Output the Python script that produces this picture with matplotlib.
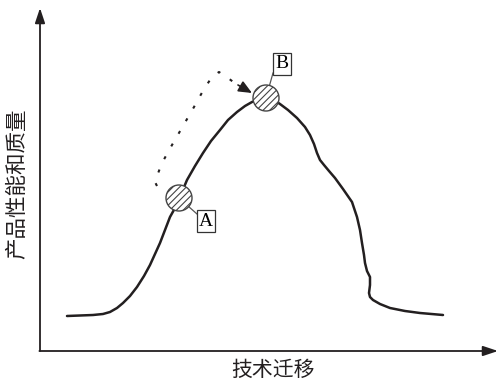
import matplotlib
matplotlib.use("Agg")
import matplotlib.pyplot as plt
from matplotlib.patches import Circle
import numpy as np

plt.rcParams['font.family'] = ['Noto Sans CJK SC', 'DejaVu Sans']
plt.rcParams['hatch.linewidth'] = 0.8

# Curve points (technology transfer x, performance y) in pixel-like drawing units
curve_x = [67, 80, 93, 103, 110, 117, 123, 130, 137, 144, 150, 155, 160, 165, 170, 175,
           179, 187, 195, 203, 211, 220, 228, 237, 245, 252, 259, 266, 273, 280, 288,
           297, 305, 310, 314, 317, 320, 324, 329, 335, 343, 352, 357, 360, 362, 364, 365,
           367, 370, 370, 369, 370, 373, 380, 390, 405, 420, 443]
curve_y = [316, 315.5, 315, 314, 312, 308, 303, 296, 287, 276, 265, 254, 243, 230, 217, 208,
           199, 180, 166, 153, 141, 130, 120, 112, 106, 102, 99.5, 98, 99.5, 104, 110,
           118, 127, 135, 144, 153, 160, 165, 171, 178, 189, 202, 217, 230, 243, 255, 263,
           271, 277, 285, 293, 297, 300, 304, 308, 311, 313, 315]

# Dotted migration path
path_x = [157, 155, 157, 162, 172, 183, 194, 204, 212, 219, 228, 236]
path_y = [186, 182, 176, 163, 145, 126, 107, 89, 77, 72, 78, 84]

# Points
points = {"A": (179, 198), "B": (266, 98)}
label_pos = {"A": (206, 221), "B": (282, 64)}
leader_end = {"A": (197, 214), "B": (273, 73)}

xlabel = "技术迁移"
ylabel = "产品性能和质量"

fig = plt.figure(figsize=(4.98, 3.83), dpi=100)
ax = fig.add_axes([0, 0, 1, 1])
ax.set_xlim(0, 498)
ax.set_ylim(383, 0)
ax.axis('off')

ink = '#231f20'

# Axes arrows
ax.annotate('', xy=(40, 8), xytext=(40, 351),
            arrowprops=dict(arrowstyle='-|>,head_length=0.9,head_width=0.3', color=ink, lw=1.3,
                            shrinkA=0, shrinkB=0))
ax.annotate('', xy=(498, 351), xytext=(39.4, 351),
            arrowprops=dict(arrowstyle='-|>,head_length=0.9,head_width=0.3', color=ink, lw=1.3,
                            shrinkA=0, shrinkB=0))

# Curve
ax.plot(curve_x, curve_y, color=ink, lw=1.8, solid_capstyle='round', solid_joinstyle='round', zorder=2)

# Dotted path with arrow
ax.plot(path_x, path_y, color=ink, lw=1.5, linestyle=(0, (1.5, 5.5)), zorder=2)
ax.annotate('', xy=(252, 93), xytext=(238, 85),
            arrowprops=dict(arrowstyle='-|>,head_length=0.8,head_width=0.35', color=ink, lw=1.2,
                            shrinkA=0, shrinkB=0))

for name, (cx, cy) in points.items():
    lx, ly = leader_end[name]
    ax.plot([cx, lx], [cy, ly], color='#555555', lw=0.9, zorder=3)
    c = Circle((cx, cy), 13, facecolor='white', edgecolor='#444444', lw=1.0,
               hatch='/////', zorder=4)
    ax.add_patch(c)
    tx, ty = label_pos[name]
    ax.text(tx, ty, name, fontsize=14, family=['Liberation Serif', 'DejaVu Serif'],
            ha='center', va='center', zorder=5,
            bbox=dict(boxstyle='square,pad=0.12', facecolor='white', edgecolor='#333333', lw=0.9))

ax.text(273, 370, xlabel, fontsize=15, ha='center', va='center', color=ink)
ax.text(17, 184, ylabel, fontsize=15.5, ha='center', va='center', rotation=90, color=ink)

fig.savefig('out.png', dpi=100)
